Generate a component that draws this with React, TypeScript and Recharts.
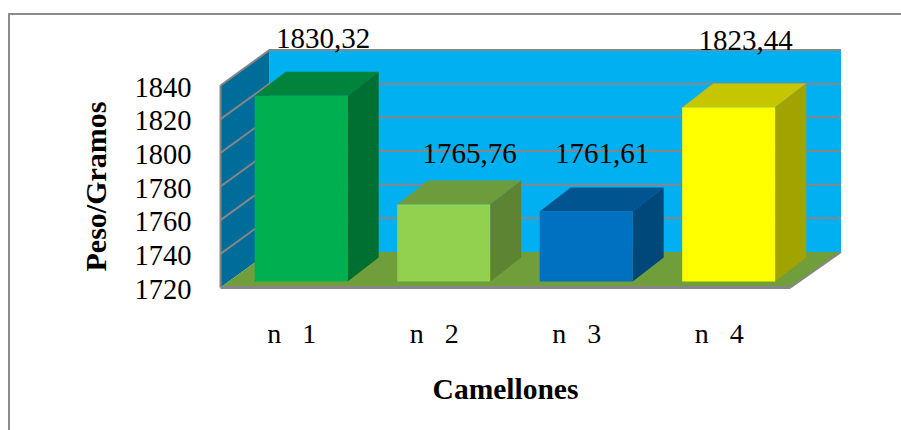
import { BarChart, Bar, XAxis, YAxis, ReferenceArea, LabelList } from "recharts";

const camellones = ["n\u00a0\u00a0\u00a01", "n\u00a0\u00a0\u00a02", "n\u00a0\u00a0\u00a03", "n\u00a0\u00a0\u00a04"];
const peso = [1830.32, 1765.76, 1761.61, 1823.44];
const yTicks = [1720, 1740, 1760, 1780, 1800, 1820, 1840];

const frontColors = ["#00b050", "#92d050", "#0070c0", "#ffff00"];
const topColors = ["#00843c", "#6e9c3c", "#005490", "#c6c600"];
const sideColors = ["#006f32", "#5d8432", "#00477a", "#a3a300"];

// hand-placed data labels, relative to the top centre of each bar's front face
const labelNudgeX = [22, 26, 16, 17];
const labelNudgeY = [-53.5, -47, -54, -63];

const FONT = "'Liberation Serif', 'Times New Roman', serif";
const GRID = "#868686";
const WALL_DX = 49;
const WALL_DX_RIGHT = 50.5;
const WALL_DY = -35.5;
const BAR_SHIFT_X = 9.25;
const BAR_SHIFT_Y = -6;
const BAR_DX = 31;
const BAR_DY = -24;

const data = camellones.map((name, i) => ({ name, peso: peso[i] }));

function pts(list: number[][]) {
  return list.map((p) => p.join(",")).join(" ");
}

// back wall, side wall and floor of the 3D box
function Walls({ x, y, width, height }: any) {
  const r = x + width;
  const b = y + height;
  const backL = x + WALL_DX;
  const backR = r + WALL_DX_RIGHT;
  return (
    <g>
      <polygon
        points={pts([[backL, y + WALL_DY], [backR, y + WALL_DY], [backR, b + WALL_DY], [backL, b + WALL_DY]])}
        fill="#00b0f0"
      />
      <polygon
        points={pts([[x, y], [backL, y + WALL_DY], [backL, b + WALL_DY], [x, b]])}
        fill="#006c99"
      />
      <polygon
        points={pts([[x, b], [backL, b + WALL_DY], [backR, b + WALL_DY], [r, b]])}
        fill="#6f9e3b"
      />
      <line x1={x} y1={y} x2={x} y2={b} stroke={GRID} strokeWidth={2} />
      <line x1={r} y1={b} x2={backR} y2={b + WALL_DY} stroke={GRID} strokeWidth={2} />
    </g>
  );
}

// gridline bent across the side wall and the back wall, along the band's upper edge
function WallLine({ x, y, width }: any) {
  return (
    <polyline
      points={pts([[x, y], [x + WALL_DX, y + WALL_DY], [x + width + WALL_DX_RIGHT, y + WALL_DY]])}
      fill="none"
      stroke={GRID}
      strokeWidth={2}
    />
  );
}

function Block({ x, y, width, height, index }: any) {
  const l = x + BAR_SHIFT_X;
  const t = y + BAR_SHIFT_Y;
  const r = l + width;
  const b = t + height;
  return (
    <g>
      <polygon
        points={pts([[l, t], [l + BAR_DX, t + BAR_DY], [r + BAR_DX, t + BAR_DY], [r, t]])}
        fill={topColors[index]}
      />
      <polygon
        points={pts([[r, t], [r + BAR_DX, t + BAR_DY], [r + BAR_DX, b + BAR_DY], [r, b]])}
        fill={sideColors[index]}
      />
      <rect x={l} y={t} width={width} height={height} fill={frontColors[index]} />
    </g>
  );
}

function BlockLabel({ x, y, width, index, value }: any) {
  return (
    <text
      x={x + BAR_SHIFT_X + width / 2 + labelNudgeX[index]}
      y={y + labelNudgeY[index]}
      textAnchor="middle"
      fontFamily={FONT}
      fontSize={29}
      fill="#000"
    >
      {Number(value).toFixed(2).replace(".", ",")}
    </text>
  );
}

export default function App() {
  return (
    <div style={{ position: "absolute", left: 0, top: 0, width: 901, height: 430, overflow: "hidden", background: "#fff" }}>
      {/* chart frame, runs off the right and bottom of the page */}
      <div
        style={{
          position: "absolute",
          left: 8,
          top: 13,
          width: 1000,
          height: 500,
          border: "2px solid #8c8c8c",
        }}
      />
      <div style={{ position: "absolute", left: 0, top: 0 }}>
        <BarChart
          width={901}
          height={430}
          data={data}
          barCategoryGap="17.5%"
          margin={{ top: 85.5, right: 110.5, bottom: 10, left: 60 }}
        >
          <ReferenceArea y1={1720} y2={1840} shape={<Walls />} ifOverflow="visible" />
          {yTicks.slice(1).map((t, i) => (
            <ReferenceArea key={t} y1={yTicks[i]} y2={t} shape={<WallLine />} ifOverflow="visible" />
          ))}
          <XAxis
            dataKey="name"
            height={132.5}
            interval={0}
            tickLine={false}
            axisLine={{ stroke: GRID, strokeWidth: 3 }}
            tickMargin={30}
            tick={{ fontFamily: FONT, fontSize: 28, fill: "#000" }}
            label={{
              value: "Camellones",
              position: "insideBottom",
              offset: 21,
              fontFamily: FONT,
              fontSize: 29.5,
              fontWeight: 700,
              fill: "#000",
            }}
          />
          <YAxis
            width={160.5}
            domain={[1720, 1840]}
            ticks={yTicks}
            interval={0}
            tickLine={false}
            axisLine={false}
            tickMargin={26}
            tick={{ fontFamily: FONT, fontSize: 28.5, fill: "#000", dy: 1, dx: 3 }}
            label={{
              value: "Peso/Gramos",
              angle: -90,
              position: "insideLeft",
              offset: 35,
              fontFamily: FONT,
              fontSize: 30,
              fontWeight: 700,
              fill: "#000",
              style: { textAnchor: "middle" },
            }}
          />
          <Bar dataKey="peso" shape={<Block />} isAnimationActive={false}>
            <LabelList dataKey="peso" content={<BlockLabel />} />
          </Bar>
        </BarChart>
      </div>
    </div>
  );
}
